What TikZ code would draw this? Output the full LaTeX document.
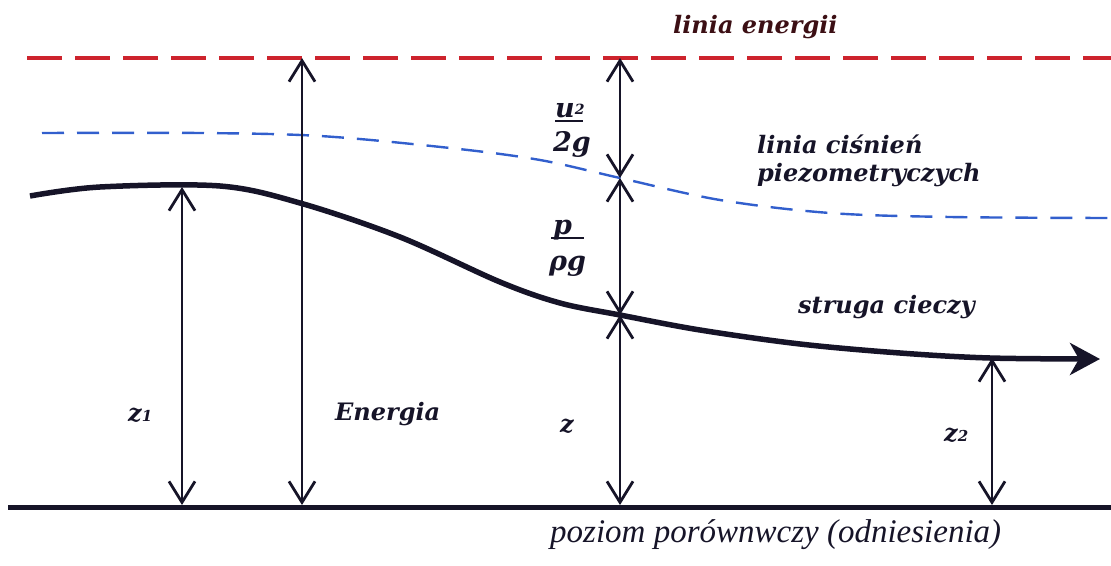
\documentclass[tikz,border=0pt]{standalone}
\usepackage{fontspec}
\setmainfont{Liberation Serif}
\newfontfamily\lblfont{DejaVu Serif}
\usetikzlibrary{arrows.meta}
\definecolor{ink}{RGB}{22,20,40}
\definecolor{enink}{RGB}{60,15,20}
\definecolor{enred}{RGB}{205,35,45}
\definecolor{pzblue}{RGB}{50,95,205}
\begin{document}
\begin{tikzpicture}[x=1pt,y=-1pt,
  lbl/.style={font=\lblfont\bfseries\itshape\fontsize{24}{26}\selectfont, text=ink, inner sep=0pt, anchor=base west},
  frac/.style={font=\lblfont\bfseries\itshape\fontsize{27}{29}\selectfont, text=ink, inner sep=0pt, anchor=base west},
  plain/.style={font=\itshape\fontsize{33}{36}\selectfont, text=ink, inner sep=0pt, anchor=base west},
  barb/.tip={Straight Barb[length=21pt,width=26pt]},
  dimarrow/.style={draw=ink, line width=2.8pt, barb-barb},
  energyline/.style={draw=enred, line width=4pt, dash pattern=on 35pt off 13pt},
  piezoline/.style={draw=pzblue, line width=2.4pt, dash pattern=on 22pt off 13pt},
  streamline/.style={draw=ink, line width=5.5pt, -{Stealth[length=30pt,width=32pt,inset=9pt]}},
  baseline/.style={draw=ink, line width=5pt},
  fracbar/.style={draw=ink, line width=2pt}
]
\useasboundingbox (0,0) rectangle (1111,565);

% reference lines
\draw[energyline] (27,58) -- (1111,58);
\draw[piezoline] plot[smooth, tension=0.55] coordinates {(42,133) (200,133) (320,136) (450,148) (540,160) (620,178) (720,200) (830,213) (950,217) (1111,218)};
\draw[streamline] plot[smooth, tension=0.55] coordinates {(30,196) (100,187) (220,186) (300,203) (400,237) (500,282) (560,303) (620,315) (700,330) (800,344) (900,353) (990,358) (1100,359)};
\draw[baseline] (8,507) -- (1111,507);

% coordinates for the dimension arrows
\coordinate (z1top) at (182,187);
\coordinate (z1bot) at (182,505);
\coordinate (Etop) at (302,58);
\coordinate (Ebot) at (302,505);
\coordinate (Atop) at (620,58);
\coordinate (Amid) at (620,178);
\coordinate (Alow) at (620,315);
\coordinate (Abot) at (620,505);
\coordinate (z2top) at (992,358);
\coordinate (z2bot) at (992,505);

\draw[dimarrow] (z1top) -- (z1bot);
\draw[dimarrow] (Etop) -- (Ebot);
\draw[dimarrow] (Atop) -- (Amid);
\draw[dimarrow] (Amid) -- (Alow);
\draw[dimarrow] (Alow) -- (Abot);
\draw[dimarrow] (z2top) -- (z2bot);

% labels
\node[lbl, text=enink] (le) at (673,33) {linia energii};
\node[lbl] (lc1) at (757,153) {linia ciśnień};
\node[lbl] (lc2) at (757,181) {piezometryczych};
\node[lbl] (sc) at (798,313) {struga cieczy};
\node[plain] (pp) at (550,542) {poziom porównwczy (odniesienia)};
\node[lbl] (en) at (335,420) {Energia};

\node[lbl] (z1) at (128,421) {z\fontsize{15}{16}\selectfont 1};
\node[lbl] (z) at (560,432) {z};
\node[lbl] (z2) at (944,441) {z\fontsize{15}{16}\selectfont 2};

\node[frac] (u2) at (555,117) {u\raisebox{3pt}{\fontsize{14}{15}\selectfont 2}};
\draw[fracbar] (555,121) -- (583,121);
\node[frac] (g2) at (553,151) {2g};

\node[frac] (p) at (553,234) {p};
\draw[fracbar] (551,238) -- (584,238);
\node[frac] (rg) at (549,270) {ρg};
\end{tikzpicture}
\end{document}
